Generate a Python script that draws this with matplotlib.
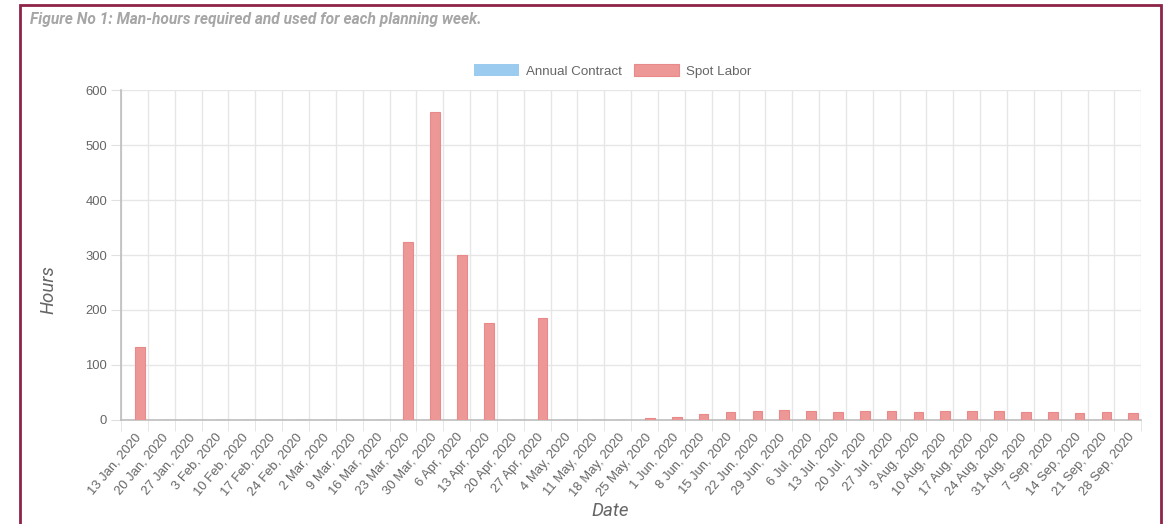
import numpy as np
import matplotlib.pyplot as plt
from matplotlib.patches import Rectangle

weeks = ["13 Jan, 2020", "20 Jan, 2020", "27 Jan, 2020", "3 Feb, 2020", "10 Feb, 2020",
         "17 Feb, 2020", "24 Feb, 2020", "2 Mar, 2020", "9 Mar, 2020", "16 Mar, 2020",
         "23 Mar, 2020", "30 Mar, 2020", "6 Apr, 2020", "13 Apr, 2020", "20 Apr, 2020",
         "27 Apr, 2020", "4 May, 2020", "11 May, 2020", "18 May, 2020", "25 May, 2020",
         "1 Jun, 2020", "8 Jun, 2020", "15 Jun, 2020", "22 Jun, 2020", "29 Jun, 2020",
         "6 Jul, 2020", "13 Jul, 2020", "20 Jul, 2020", "27 Jul, 2020", "3 Aug, 2020",
         "10 Aug, 2020", "17 Aug, 2020", "24 Aug, 2020", "31 Aug, 2020", "7 Sep, 2020",
         "14 Sep, 2020", "21 Sep, 2020", "28 Sep, 2020"]

annual_contract = [0] * 38

spot_labor = [132, 0, 0, 0, 0, 0, 0, 0, 0, 0,
              324, 560, 300, 176, 0, 185, 0, 0, 0.5, 3,
              5, 10, 14, 16, 19, 16, 15, 16, 17, 15,
              17, 17, 16, 14, 14, 13, 15, 12]

grey = "#666666"
fig = plt.figure(figsize=(11.66, 5.24), dpi=100)
ax = fig.add_axes([0.1038, 0.1985, 0.875, 0.6297])

x = np.arange(len(weeks))
w = 0.36
ax.bar(x - 0.2, annual_contract, width=w, color="#9ccbf0", edgecolor="#9ccbf0",
       linewidth=0, label="Annual Contract", zorder=3)
ax.bar(x + 0.2, spot_labor, width=w, color="#ee9797", edgecolor="#e98a8a",
       linewidth=0.8, label="Spot Labor", zorder=3)

ax.set_xlim(-0.5, len(weeks) - 0.5)
ax.set_ylim(0, 600)
ax.set_yticks(np.arange(0, 601, 100))

ax.set_xticks(x)
ax.set_xticklabels(weeks, rotation=50, ha="right", rotation_mode="anchor",
                   fontsize=9.4, color=grey, family="Liberation Sans")
ax.set_xticks(np.arange(-0.5, len(weeks)), minor=True)
ax.tick_params(axis="x", which="major", length=0, pad=8)
ax.tick_params(axis="x", which="minor", length=8, color="#e0e0e0")
ax.tick_params(axis="y", length=7, color="#e0e0e0", labelsize=9.4, labelcolor=grey, pad=3)
for t in ax.get_yticklabels():
    t.set_family("Liberation Sans")

ax.grid(True, axis="x", which="minor", color="#e6e6e6", linewidth=1)
ax.grid(True, axis="y", which="major", color="#e6e6e6", linewidth=1)
ax.set_axisbelow(True)
for s in ["top", "right"]:
    ax.spines[s].set_visible(False)
for s in ["left", "bottom"]:
    ax.spines[s].set_color("#bdbdbd")
    ax.spines[s].set_linewidth(1.2)

ax.set_ylabel("Hours", fontsize=13.5, color=grey, style="italic", family="Roboto")
ax.yaxis.set_label_coords(-0.062, 0.395)
ax.set_xlabel("Date", fontsize=13.5, color=grey, style="italic", family="Roboto")
ax.xaxis.set_label_coords(0.479, -0.248)

leg = ax.legend(loc="lower center", bbox_to_anchor=(0.482, 1.0), ncol=2, frameon=False,
                handlelength=3.4, handleheight=1.0, columnspacing=0.9, handletextpad=0.5,
                prop={"family": "Liberation Sans", "size": 9.6})
for t in leg.get_texts():
    t.set_color(grey)

fig.text(0.026, 0.963, "Figure No 1: Man-hours required and used for each planning week.",
         fontsize=11.2, color="#a6a6a6", style="italic", weight="bold", family="Roboto",
         va="center", ha="left")

fig.patches.append(Rectangle((20 / 1166, -0.1), 1141 / 1166, 1.1 - 5 / 524, transform=fig.transFigure,
                             fill=False, edgecolor="#8e2447", linewidth=2, clip_on=False))

fig.savefig("out.png", dpi=100)
